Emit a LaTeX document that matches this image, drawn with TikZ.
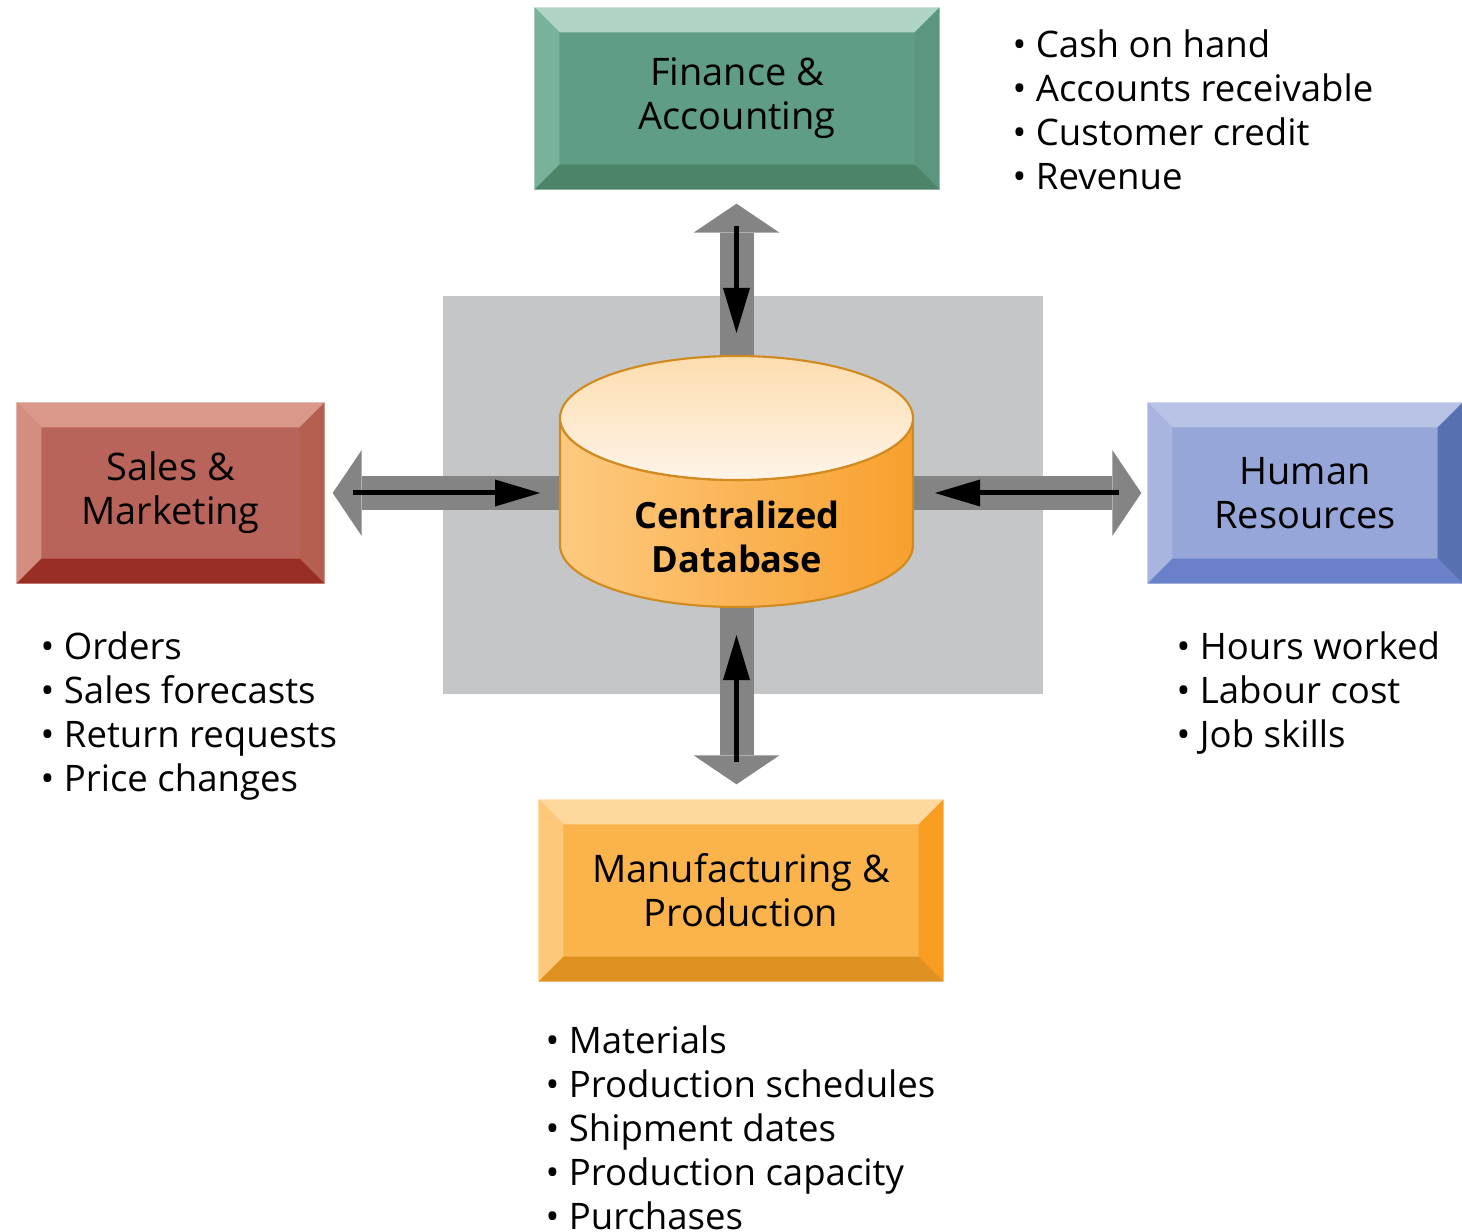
\documentclass[tikz,border=0pt]{standalone}
\usepackage{fontspec}
\setmainfont{Open Sans}
\usetikzlibrary{arrows.meta}

\definecolor{faface}{HTML}{5F9D84}
\definecolor{fatop}{HTML}{AFD4C3}
\definecolor{faleft}{HTML}{79B29B}
\definecolor{faright}{HTML}{5A977E}
\definecolor{fabottom}{HTML}{4B8469}
\definecolor{smface}{HTML}{B9645A}
\definecolor{smtop}{HTML}{D9988A}
\definecolor{smleft}{HTML}{D38E80}
\definecolor{smright}{HTML}{B5604F}
\definecolor{smbottom}{HTML}{992E24}
\definecolor{hrface}{HTML}{96A6D8}
\definecolor{hrtop}{HTML}{B9C3E5}
\definecolor{hrleft}{HTML}{A9B5E0}
\definecolor{hrright}{HTML}{5770B0}
\definecolor{hrbottom}{HTML}{6A80C8}
\definecolor{mpface}{HTML}{FBB34B}
\definecolor{mptop}{HTML}{FED89C}
\definecolor{mpleft}{HTML}{FEC87A}
\definecolor{mpright}{HTML}{F99C20}
\definecolor{mpbottom}{HTML}{DE9020}
\definecolor{bggray}{HTML}{C5C6C8}
\definecolor{arrowgray}{HTML}{848484}
\definecolor{dbleft}{HTML}{FDCA80}
\definecolor{dbright}{HTML}{F8A02E}
\definecolor{dbtoptop}{HTML}{FDDDAE}
\definecolor{dbtopbot}{HTML}{FEF4E8}
\definecolor{dbline}{HTML}{D08A20}

% bevel edges round a box node: node, top, left, right, bottom
\newcommand\bevel[5]{%
  \fill[#2] (#1.north west) -- (#1.north east) -- ([shift={(-2.5mm,-2.5mm)}]#1.north east) -- ([shift={(2.5mm,-2.5mm)}]#1.north west) -- cycle;
  \fill[#3] (#1.north west) -- (#1.south west) -- ([shift={(2.5mm,2.5mm)}]#1.south west) -- ([shift={(2.5mm,-2.5mm)}]#1.north west) -- cycle;
  \fill[#4] (#1.north east) -- (#1.south east) -- ([shift={(-2.5mm,2.5mm)}]#1.south east) -- ([shift={(-2.5mm,-2.5mm)}]#1.north east) -- cycle;
  \fill[#5] (#1.south west) -- (#1.south east) -- ([shift={(-2.5mm,2.5mm)}]#1.south east) -- ([shift={(2.5mm,2.5mm)}]#1.south west) -- cycle;
}

\begin{document}
\begin{tikzpicture}[x=0.1mm, y=-0.1mm,
  box/.style={rectangle, inner sep=0pt, align=center, font=\fontsize{10.8}{12.5}\selectfont},
  fat arrow/.style={draw=arrowgray, line width=3.4mm, -{Triangle[width=8.6mm,length=2.9mm,line width=0pt]}},
  thin arrow/.style={draw=black, line width=0.5mm, -{Triangle[width=2.7mm,length=4.5mm,line width=0pt]}},
  list/.style={anchor=north west, inner sep=0pt, align=left, font=\fontsize{10.4}{12.5}\selectfont}]
\useasboundingbox (0,0) rectangle (1462,1232);

% departments
\node[box, fill=faface, minimum width=40.4mm, minimum height=18.1mm] (fa) at (737,98.5) {Finance \&\\Accounting};
\node[box, fill=smface, minimum width=30.7mm, minimum height=18mm] (sm) at (170.5,493) {Sales \&\\Marketing};
\node[box, fill=hrface, minimum width=31.4mm, minimum height=18mm] (hr) at (1305,493) {Human\\Resources};
\node[box, fill=mpface, minimum width=40.4mm, minimum height=18.1mm] (mp) at (741,890.5) {Manufacturing \&\\Production};
\bevel{fa}{fatop}{faleft}{faright}{fabottom}
\bevel{sm}{smtop}{smleft}{smright}{smbottom}
\bevel{hr}{hrtop}{hrleft}{hrright}{hrbottom}
\bevel{mp}{mptop}{mpleft}{mpright}{mpbottom}

\fill[bggray] (443,296) rectangle (1043,694);

% database
\coordinate (dbc) at (736.5,481);
\coordinate (dbn) at (736.5,356);
\coordinate (dbs) at (736.5,607);
\coordinate (dbw) at (560,493);
\coordinate (dbe) at (913,493);

\draw[fat arrow, shorten >=1.4mm] (dbc) -- (dbc |- fa.south);
\draw[fat arrow, shorten >=1.5mm] (dbc) -- (dbc |- mp.north);
\draw[fat arrow, shorten >=0.8mm] (sm.east -| dbc) -- (sm.east);
\draw[fat arrow, shorten >=0.6mm] (hr.west -| dbc) -- (hr.west);

\path[draw=dbline, line width=0.6pt, left color=dbleft, right color=dbright] (560,418) -- (560,545) arc[start angle=180, end angle=0, x radius=176.5, y radius=62] -- (913,418) arc[start angle=0, end angle=180, x radius=176.5, y radius=62] -- cycle;
\path[draw=dbline, line width=0.6pt, top color=dbtoptop, bottom color=dbtopbot] (736.5,418) ellipse [x radius=176.5, y radius=62];
\node[align=center, font=\fontsize{10.3}{12.5}\selectfont\bfseries] (db) at (737,537) {Centralized\\Database};

\draw[thin arrow, shorten <=3.6mm, shorten >=2.3mm] (dbn |- fa.south) -- (dbn);
\draw[thin arrow, shorten <=3.7mm, shorten >=2.8mm] (dbs |- mp.north) -- (dbs);
\draw[thin arrow, shorten <=2.8mm, shorten >=2mm] (sm.east) -- (dbw);
\draw[thin arrow, shorten <=2.8mm, shorten >=2.2mm] (hr.west) -- (dbe);

% data lists
\node[list] (falist) at (1012,29) {• Cash on hand\\• Accounts receivable\\• Customer credit\\• Revenue};
\node[list] (smlist) at (40,631) {• Orders\\• Sales forecasts\\• Return requests\\• Price changes};
\node[list] (hrlist) at (1176,631) {• Hours worked\\• Labour cost\\• Job skills};
\node[list] (mplist) at (545,1025) {• Materials\\• Production schedules\\• Shipment dates\\• Production capacity\\• Purchases};
\end{tikzpicture}
\end{document}
